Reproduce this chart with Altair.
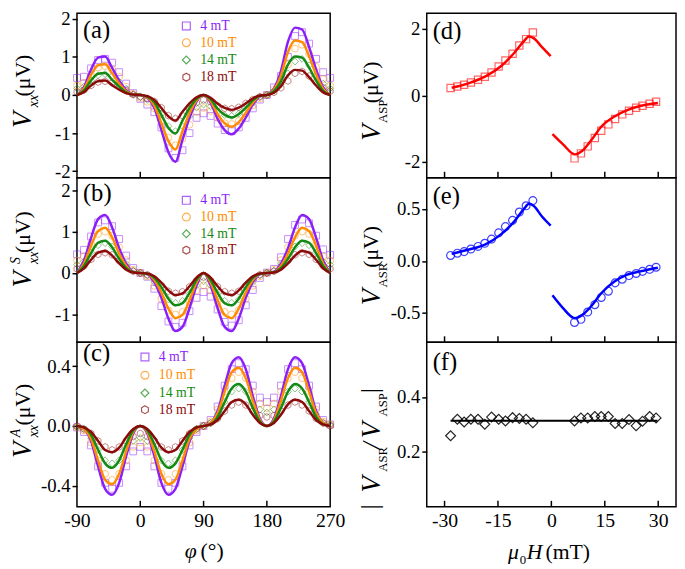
import altair as alt
import pandas as pd

FONT = "Liberation Serif"
HEX = "M0,-1L0.866,-0.5L0.866,0.5L0,1L-0.866,0.5L-0.866,-0.5Z"

SERIES = ["4 mT", "10 mT", "14 mT", "18 mT"]
COLORS = ["#8B1FFA", "#FF8C00", "#138A13", "#8B0A0A"]
SHAPES = ["square", "circle", "diamond", HEX]

PHI = [-90, -80, -70, -60, -50, -40, -30, -20, -10, 0, 10, 20, 30, 40, 50, 60, 70, 80, 90,
       100, 110, 120, 130, 140, 150, 160, 170, 180, 190, 200, 210, 220, 230, 240, 250, 260, 270]
PHI_TICKS = [-90, 0, 90, 180, 270]

# ---------------- panel (a): V_xx ----------------
A_LINE = [
    [0, 0.21, 0.67, 0.98, 1.01, 0.71, 0.38, 0.13, 0.02, 0, -0.07, -0.34, -0.92, -1.5, -1.75, -1.18, -0.6, -0.17, 0,
     -0.2, -0.63, -0.92, -1.03, -0.88, -0.59, -0.25, -0.04, 0, 0.17, 0.63, 1.4, 1.77, 1.72, 1.26, 0.67, 0.2, 0],
    [0, 0.17, 0.53, 0.78, 0.81, 0.57, 0.3, 0.1, 0.02, 0, -0.06, -0.27, -0.74, -1.21, -1.43, -0.95, -0.48, -0.14, 0,
     -0.16, -0.5, -0.74, -0.83, -0.71, -0.47, -0.2, -0.03, 0, 0.14, 0.51, 1.13, 1.43, 1.39, 1.02, 0.54, 0.16, 0],
    [0, 0.12, 0.38, 0.56, 0.58, 0.4, 0.22, 0.07, 0.01, 0, -0.04, -0.19, -0.52, -0.86, -1.01, -0.67, -0.34, -0.1, 0,
     -0.11, -0.36, -0.52, -0.59, -0.5, -0.34, -0.14, -0.02, 0, 0.1, 0.36, 0.8, 1.01, 0.98, 0.72, 0.38, 0.11, 0],
    [0, 0.08, 0.25, 0.36, 0.38, 0.26, 0.14, 0.05, 0.01, 0, -0.03, -0.13, -0.34, -0.56, -0.67, -0.44, -0.22, -0.06, 0,
     -0.07, -0.23, -0.34, -0.39, -0.33, -0.22, -0.09, -0.01, 0, 0.06, 0.23, 0.52, 0.66, 0.64, 0.47, 0.25, 0.07, 0],
]
A_PTS = [
    [0.45, 0.48, 0.7, 0.92, 0.95, 0.85, 0.6, 0.3, 0.05, -0.1, -0.25, -0.45, -0.85, -1.4, -1.65, -1.45, -1.0, -0.6, -0.48,
     -0.55, -0.75, -0.92, -0.95, -0.85, -0.6, -0.35, -0.12, 0.0, 0.2, 0.5, 1.0, 1.55, 1.65, 1.35, 0.95, 0.6, 0.45],
    [0.25, 0.32, 0.52, 0.72, 0.76, 0.68, 0.48, 0.22, 0.03, -0.08, -0.18, -0.35, -0.68, -1.12, -1.32, -1.15, -0.78, -0.45, -0.34,
     -0.42, -0.6, -0.74, -0.76, -0.68, -0.48, -0.27, -0.09, 0.0, 0.15, 0.4, 0.8, 1.22, 1.32, 1.08, 0.74, 0.42, 0.25],
    [0.17, 0.22, 0.38, 0.52, 0.55, 0.5, 0.35, 0.17, 0.02, -0.06, -0.13, -0.26, -0.5, -0.82, -0.95, -0.82, -0.56, -0.33, -0.25,
     -0.3, -0.43, -0.53, -0.55, -0.49, -0.34, -0.19, -0.06, 0.0, 0.11, 0.29, 0.57, 0.88, 0.95, 0.78, 0.52, 0.3, 0.17],
    [0.08, 0.13, 0.25, 0.34, 0.36, 0.32, 0.23, 0.11, 0.01, -0.04, -0.09, -0.17, -0.33, -0.54, -0.62, -0.54, -0.37, -0.2, -0.13,
     -0.18, -0.28, -0.35, -0.36, -0.32, -0.22, -0.12, -0.04, 0.0, 0.07, 0.19, 0.37, 0.57, 0.62, 0.5, 0.34, 0.19, 0.1],
]

# ---------------- panel (b): V^S_xx ----------------
B_LINE = [
    [0, 0.3, 0.85, 1.3, 1.4, 1.1, 0.6, 0.22, 0.03, 0, -0.03, -0.22, -0.6, -1.1, -1.4, -1.3, -0.85, -0.3, 0,
     -0.3, -0.85, -1.3, -1.4, -1.1, -0.6, -0.22, -0.03, 0, 0.03, 0.22, 0.6, 1.1, 1.4, 1.3, 0.85, 0.3, 0],
    [0, 0.23, 0.66, 1.01, 1.09, 0.86, 0.47, 0.17, 0.02, 0, -0.02, -0.17, -0.47, -0.86, -1.09, -1.01, -0.66, -0.23, 0,
     -0.23, -0.66, -1.01, -1.09, -0.86, -0.47, -0.17, -0.02, 0, 0.02, 0.17, 0.47, 0.86, 1.09, 1.01, 0.66, 0.23, 0],
    [0, 0.17, 0.48, 0.73, 0.78, 0.62, 0.34, 0.12, 0.02, 0, -0.02, -0.12, -0.34, -0.62, -0.78, -0.73, -0.48, -0.17, 0,
     -0.17, -0.48, -0.73, -0.78, -0.62, -0.34, -0.12, -0.02, 0, 0.02, 0.12, 0.34, 0.62, 0.78, 0.73, 0.48, 0.17, 0],
    [0, 0.11, 0.32, 0.49, 0.53, 0.42, 0.23, 0.08, 0.01, 0, -0.01, -0.08, -0.23, -0.42, -0.53, -0.49, -0.32, -0.11, 0,
     -0.11, -0.32, -0.49, -0.53, -0.42, -0.23, -0.08, -0.01, 0, 0.01, 0.08, 0.23, 0.42, 0.53, 0.49, 0.32, 0.11, 0],
]
B_PTS = [
    [0.45, 0.56, 0.88, 1.22, 1.27, 1.13, 0.82, 0.42, 0.12, 0.0, -0.09, -0.38, -0.8, -1.17, -1.3, -1.2, -0.92, -0.6, -0.46,
     -0.57, -0.88, -1.18, -1.27, -1.14, -0.78, -0.41, -0.12, 0.01, 0.1, 0.38, 0.82, 1.16, 1.29, 1.2, 0.9, 0.57, 0.44],
    [0.3, 0.4, 0.7, 0.94, 1.0, 0.9, 0.62, 0.31, 0.08, 0.0, -0.08, -0.31, -0.62, -0.9, -1.0, -0.94, -0.7, -0.42, -0.3,
     -0.42, -0.7, -0.94, -1.0, -0.9, -0.62, -0.31, -0.08, 0.0, 0.08, 0.31, 0.62, 0.9, 1.0, 0.94, 0.7, 0.4, 0.3],
    [0.2, 0.28, 0.5, 0.67, 0.72, 0.64, 0.45, 0.22, 0.06, 0.0, -0.06, -0.22, -0.45, -0.64, -0.72, -0.67, -0.5, -0.3, -0.2,
     -0.3, -0.5, -0.67, -0.72, -0.64, -0.45, -0.22, -0.06, 0.0, 0.06, 0.22, 0.45, 0.64, 0.72, 0.67, 0.5, 0.28, 0.2],
    [0.1, 0.17, 0.33, 0.45, 0.49, 0.44, 0.3, 0.15, 0.04, 0.0, -0.04, -0.15, -0.3, -0.44, -0.49, -0.45, -0.33, -0.18, -0.1,
     -0.18, -0.33, -0.45, -0.49, -0.44, -0.3, -0.15, -0.04, 0.0, 0.04, 0.15, 0.3, 0.44, 0.49, 0.45, 0.33, 0.17, 0.1],
]

# ---------------- panel (c): V^A_xx ----------------
C_LINE = [
    [0, -0.02, -0.1, -0.27, -0.42, -0.46, -0.38, -0.2, -0.05, 0, -0.05, -0.2, -0.38, -0.46, -0.42, -0.27, -0.1, -0.02, 0,
     0.02, 0.1, 0.27, 0.42, 0.46, 0.38, 0.2, 0.05, 0, 0.05, 0.2, 0.38, 0.46, 0.42, 0.27, 0.1, 0.02, 0],
    [0, -0.02, -0.085, -0.23, -0.36, -0.39, -0.32, -0.17, -0.04, 0, -0.04, -0.17, -0.32, -0.39, -0.36, -0.23, -0.085, -0.02, 0,
     0.02, 0.085, 0.23, 0.36, 0.39, 0.32, 0.17, 0.04, 0, 0.04, 0.17, 0.32, 0.39, 0.36, 0.23, 0.085, 0.02, 0],
    [0, -0.01, -0.06, -0.16, -0.25, -0.28, -0.23, -0.12, -0.03, 0, -0.03, -0.12, -0.23, -0.28, -0.25, -0.16, -0.06, -0.01, 0,
     0.01, 0.06, 0.16, 0.25, 0.28, 0.23, 0.12, 0.03, 0, 0.03, 0.12, 0.23, 0.28, 0.25, 0.16, 0.06, 0.01, 0],
    [0, -0.01, -0.04, -0.1, -0.16, -0.175, -0.145, -0.075, -0.02, 0, -0.02, -0.075, -0.145, -0.175, -0.16, -0.1, -0.04, -0.01, 0,
     0.01, 0.04, 0.1, 0.16, 0.175, 0.145, 0.075, 0.02, 0, 0.02, 0.075, 0.145, 0.175, 0.16, 0.1, 0.04, 0.01, 0],
]
C_PTS = [
    [-0.01, -0.04, -0.13, -0.27, -0.38, -0.42, -0.38, -0.27, -0.17, -0.14, -0.17, -0.27, -0.38, -0.42, -0.38, -0.27, -0.13, -0.04, 0.0,
     0.04, 0.13, 0.27, 0.38, 0.42, 0.38, 0.27, 0.19, 0.16, 0.19, 0.27, 0.38, 0.42, 0.38, 0.27, 0.13, 0.04, 0.01],
    [-0.01, -0.03, -0.11, -0.23, -0.32, -0.36, -0.32, -0.23, -0.14, -0.11, -0.14, -0.23, -0.32, -0.36, -0.32, -0.23, -0.11, -0.03, 0.0,
     0.03, 0.11, 0.23, 0.32, 0.36, 0.32, 0.23, 0.15, 0.12, 0.15, 0.23, 0.32, 0.36, 0.32, 0.23, 0.11, 0.03, 0.01],
    [-0.01, -0.02, -0.08, -0.16, -0.23, -0.25, -0.23, -0.16, -0.1, -0.08, -0.1, -0.16, -0.23, -0.25, -0.23, -0.16, -0.08, -0.02, 0.0,
     0.02, 0.08, 0.16, 0.23, 0.25, 0.23, 0.16, 0.11, 0.09, 0.11, 0.16, 0.23, 0.25, 0.23, 0.16, 0.08, 0.02, 0.01],
    [0.0, -0.02, -0.05, -0.1, -0.14, -0.16, -0.14, -0.1, -0.07, -0.05, -0.07, -0.1, -0.14, -0.16, -0.14, -0.1, -0.05, -0.02, 0.0,
     0.02, 0.05, 0.1, 0.14, 0.16, 0.14, 0.1, 0.07, 0.06, 0.07, 0.1, 0.14, 0.16, 0.14, 0.1, 0.05, 0.02, 0.0],
]

# ---------------- right panels ----------------
H_PTS = [-28.3, -26.4, -24.5, -22.6, -20.6, -18.7, -16.8, -14.8, -12.9, -10.9, -9.0, -7.1, -5.2,
         6.5, 8.3, 10.2, 12.2, 14.0, 16.0, 17.9, 19.9, 21.8, 23.8, 25.6, 27.6, 29.4]
H_TICKS = [-30, -15, 0, 15, 30]
ASP_PTS = [0.22, 0.27, 0.32, 0.39, 0.47, 0.56, 0.69, 0.87, 1.05, 1.25, 1.5, 1.69, 1.89,
           -1.89, -1.74, -1.53, -1.28, -1.06, -0.87, -0.71, -0.57, -0.46, -0.37, -0.31, -0.25, -0.19]
ASR_PTS = [0.053, 0.075, 0.09, 0.115, 0.14, 0.17, 0.21, 0.27, 0.33, 0.39, 0.47, 0.53, 0.58,
           -0.59, -0.56, -0.49, -0.42, -0.35, -0.29, -0.21, -0.175, -0.14, -0.12, -0.1, -0.08, -0.06]
RATIO_PTS = [0.259, 0.319, 0.309, 0.319, 0.319, 0.301, 0.327, 0.319, 0.313, 0.325, 0.322, 0.319, 0.306,
             0.313, 0.324, 0.324, 0.329, 0.329, 0.329, 0.304, 0.304, 0.318, 0.295, 0.312, 0.329, 0.324]

FIT_H_L = [-28.0, -23.1, -18.5, -14.0, -10.4, -7.7, -6.3, -5.0, -2.7, -0.2]
FIT_H_R = [0.3, 3.2, 6.6, 8.6, 11.3, 14.0, 17.6, 21.3, 24.9, 29.9]
ASP_FIT_L = [0.23, 0.37, 0.57, 0.89, 1.28, 1.63, 1.77, 1.72, 1.46, 1.18]
ASP_FIT_R = [-1.16, -1.46, -1.77, -1.67, -1.33, -0.94, -0.64, -0.44, -0.32, -0.23]
ASR_FIT_L = [0.07, 0.11, 0.16, 0.26, 0.38, 0.5, 0.55, 0.53, 0.43, 0.34]
ASR_FIT_R = [-0.33, -0.45, -0.55, -0.52, -0.43, -0.31, -0.2, -0.13, -0.1, -0.065]
RATIO_FIT_H = [-28.3, 29.8]
RATIO_FIT = [0.314, 0.314]

W_L, W_R, H = 257, 253, 167
GAP = 12


def txt(s, x, y, size, italic=False, angle=0, color="black", align="left", baseline="alphabetic"):
    kw = dict(font=FONT, fontSize=size, fontStyle="italic" if italic else "normal",
              align=align, baseline=baseline, color=color)
    if angle:
        kw["angle"] = angle
    return alt.Chart(pd.DataFrame({"t": [s]})).mark_text(**kw).encode(
        text="t:N", x=alt.value(x), y=alt.value(y))


def ytitle(segs):
    # segs: (text, baseline x, start offset from panel centre, size, italic)
    return [txt(s, dx, H / 2 + dy, size, it, angle=270) for s, dx, dy, size, it in segs]


def lab_expr(fmt):
    return "replace(format(datum.value, '" + fmt + "'), '\u2212', '-')"


def yaxis(vals, fmt):
    return alt.Axis(values=vals, labelExpr=lab_expr(fmt), title=None, domain=False, grid=False,
                    ticks=True, tickSize=5, tickWidth=1.5, tickColor="black",
                    labelFont=FONT, labelFontSize=19, labelColor="black", labelPadding=2)


def xaxis(vals):
    return alt.Axis(values=vals, labelExpr=lab_expr("d"), title=None, domain=False, grid=False,
                    ticks=False, labelFont=FONT, labelFontSize=20, labelColor="black",
                    labelPadding=4, labelFlush=False)


def left_panel(lines, pts, ydom, yvals, yfmt, label, label_y, leg_x, leg_rows, segs, show_x):
    n = len(PHI)
    d_line = pd.DataFrame({"phi": PHI * 4, "v": sum(lines, []), "s": [s for s in SERIES for _ in range(n)]})
    d_pts = pd.DataFrame({"phi": PHI * 4, "v": sum(pts, []), "s": [s for s in SERIES for _ in range(n)]})
    xs = alt.Scale(domain=[-90, 270], nice=False)
    ys = alt.Scale(domain=ydom, nice=False, zero=False)
    X = alt.X("phi:Q", scale=xs, axis=xaxis(PHI_TICKS) if show_x else None)
    Y = alt.Y("v:Q", scale=ys, axis=yaxis(yvals, yfmt))
    color = alt.Color("s:N", scale=alt.Scale(domain=SERIES, range=COLORS), legend=None)
    shape = alt.Shape("s:N", scale=alt.Scale(domain=SERIES, range=SHAPES), legend=None)
    layers = [
        alt.Chart(d_pts).mark_point(size=48, strokeWidth=1, opacity=0.5, filled=False).encode(
            x=X, y=Y, color=color, shape=shape),
        alt.Chart(d_line).mark_line(interpolate="monotone", strokeWidth=2.5).encode(x=X, y=Y, color=color),
        alt.Chart(pd.DataFrame({"phi": [0, 90, 180]})).mark_rule(color="black", strokeWidth=1.5).encode(
            x=X, y=alt.value(H), y2=alt.value(H - 6)),
        txt(label, 6, label_y, 25),
    ]
    for s, col, shp, ry in zip(SERIES, COLORS, SHAPES, leg_rows):
        layers.append(alt.Chart(pd.DataFrame({"s": [s]})).mark_point(
            shape=shp, size=64, color=col, opacity=0.7, strokeWidth=1.2, filled=False).encode(
            x=alt.value(leg_x), y=alt.value(ry)))
        layers.append(txt(s, leg_x + 14, ry, 14, color=col, baseline="middle"))
    layers += ytitle(segs)
    if show_x:
        c = W_L / 2
        layers += [txt("φ", c - 19, H + 52, 22, True), txt("(°)", c - 3, H + 52, 22)]
    return alt.layer(*layers).properties(width=W_L, height=H)


def right_panel(pvals, fits, color, shape, psize, popac, lw, ydom, yvals, yfmt, label, label_y, segs, show_x):
    d_pts = pd.DataFrame({"h": H_PTS, "v": pvals})
    hh, vv, gg = [], [], []
    for i, (fh, fv) in enumerate(fits):
        hh += fh
        vv += fv
        gg += [i] * len(fh)
    d_fit = pd.DataFrame({"h": hh, "v": vv, "g": gg})
    xs = alt.Scale(domain=[-35, 35], nice=False)
    ys = alt.Scale(domain=ydom, nice=False, zero=False)
    X = alt.X("h:Q", scale=xs, axis=xaxis(H_TICKS) if show_x else None)
    Y = alt.Y("v:Q", scale=ys, axis=yaxis(yvals, yfmt))
    layers = [
        alt.Chart(d_pts).mark_point(shape=shape, size=psize, strokeWidth=1.2, opacity=popac,
                                    color=color, filled=False).encode(x=X, y=Y),
        alt.Chart(d_fit).mark_line(interpolate="monotone", strokeWidth=lw, color=color).encode(
            x=X, y=Y, detail="g:N"),
        alt.Chart(pd.DataFrame({"h": H_TICKS})).mark_rule(color="black", strokeWidth=1.5).encode(
            x=X, y=alt.value(H), y2=alt.value(H - 6)),
        txt(label, 6, label_y, 25),
    ]
    layers += ytitle(segs)
    if show_x:
        c = W_R / 2
        layers += [txt("μ", c - 44, H + 53, 22, True), txt("0", c - 32, H + 58, 13),
                   txt("H", c - 25, H + 53, 22, True), txt("(mT)", c - 6, H + 53, 22)]
    return alt.layer(*layers).properties(width=W_R, height=H)


pa = left_panel(A_LINE, A_PTS, [-2.17, 2.15], [-2, -1, 0, 1, 2], "d", "(a)", 25, 111, [13, 30, 47.5, 65],
                [("V", -47, 33, 27, True), ("xx", -40, 12, 14, True), ("(μV)", -48, 1, 22, False)], False)
pb = left_panel(B_LINE, B_PTS, [-1.67, 2.3], [-1, 0, 1, 2], "d", "(b)", 24, 111, [23, 40, 57, 73.5],
                [("V", -47, 28, 27, True), ("S", -58, 4, 14, True), ("xx", -40, 4, 14, True),
                 ("(μV)", -48, -7, 22, False)], False)
pc = left_panel(C_LINE, C_PTS, [-0.54, 0.56], [-0.4, 0, 0.4], ".1f", "(c)", 19, 69, [15, 33.5, 51.5, 68.5],
                [("V", -47, 34, 27, True), ("A", -58, 13, 14, True), ("xx", -40, 13, 14, True),
                 ("(μV)", -48, 1, 22, False)], True)

pd_ = right_panel(ASP_PTS, [(FIT_H_L, ASP_FIT_L), (FIT_H_R, ASP_FIT_R)], "#FF0000", "square", 54, 0.6, 2.5,
                  [-2.47, 2.47], [-2, 0, 2], "d", "(d)", 26,
                  [("V", -47, 46, 27, True), ("ASP", -40, 28, 13, False), ("(μV)", -49, 8, 22, False)], False)
pe = right_panel(ASR_PTS, [(FIT_H_L, ASR_FIT_L), (FIT_H_R, ASR_FIT_R)], "#0000FF", "circle", 64, 0.75, 2.5,
                 [-0.78, 0.8], [-0.5, 0, 0.5], ".1f", "(e)", 27,
                 [("V", -47, 46, 27, True), ("ASR", -40, 28, 13, False), ("(μV)", -49, 8, 22, False)], False)
pf = right_panel(RATIO_PTS, [(RATIO_FIT_H, RATIO_FIT)], "#000000", "diamond", 100, 0.85, 2,
                 [0, 0.6], [0.2, 0.4], ".1f", "(f)", 28,
                 [("|", -49, 86, 25, False), ("V", -47, 69, 27, True), ("ASR", -40, 48, 13, False),
                  ("/", -47, 25, 25, True), ("V", -47, 14, 27, True), ("ASP", -40, -8, 13, False),
                  ("|", -49, -32, 25, False)], True)

left = alt.vconcat(pa, pb, pc, spacing=0, bounds="flush")
right = alt.vconcat(pd_, pe, pf, spacing=0, bounds="flush")
chart = alt.hconcat(left, right, spacing=GAP).properties(
    padding={"top": -3, "left": 0, "right": 0, "bottom": 0}).configure_view(
    stroke="black", strokeWidth=1.5)

chart.save("out.html", embed_options={"renderer": "svg", "actions": False})
